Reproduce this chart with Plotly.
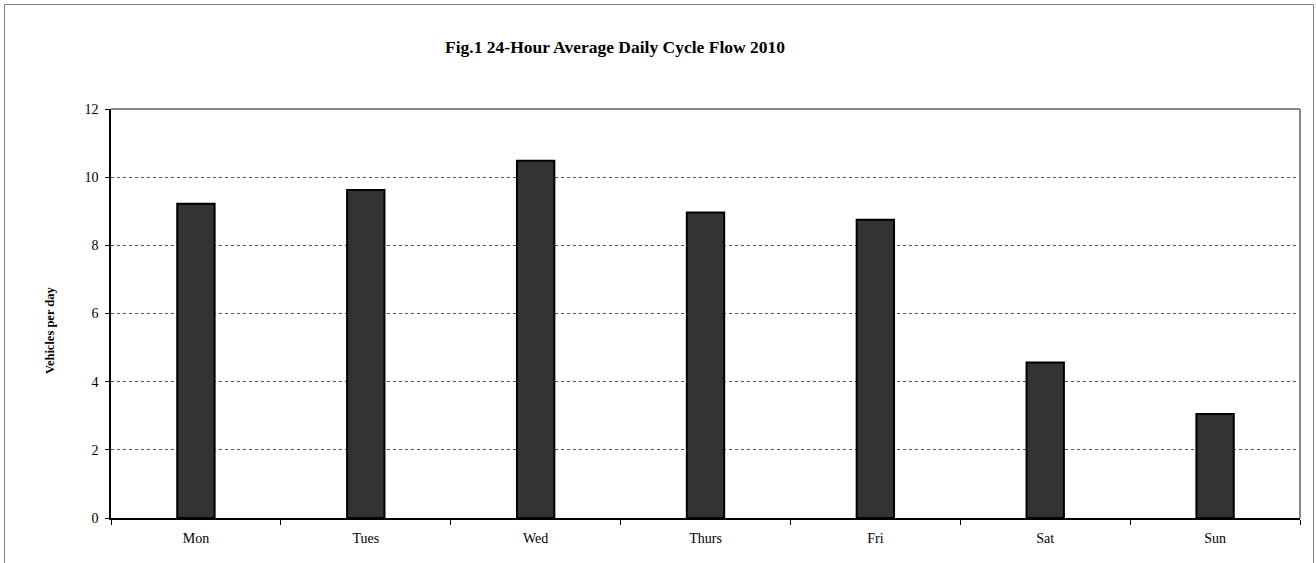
import plotly.graph_objects as go

days = ["Mon", "Tues", "Wed", "Thurs", "Fri", "Sat", "Sun"]
flow = [9.22, 9.62, 10.48, 8.96, 8.75, 4.56, 3.05]
y_ticks = [0, 2, 4, 6, 8, 10, 12]

title_text = "Fig.1 24-Hour Average Daily Cycle Flow 2010"
y_title = "Vehicles per day"

W, H = 1316, 563
L, R, T, B = 111, 16, 109, 45
pw, ph = W - L - R, H - T - B

def px(x):
    return (x - L) / pw

def py(y):
    return (H - B - y) / ph

serif = "Liberation Serif, Times New Roman, serif"

fig = go.Figure(go.Bar(
    x=days, y=flow,
    marker=dict(color="#333333", line=dict(color="#000000", width=2)),
    width=0.22,
))

fig.update_layout(
    width=W, height=H,
    margin=dict(l=L, r=R, t=T, b=B),
    paper_bgcolor="white", plot_bgcolor="white",
    showlegend=False,
    font=dict(family=serif, size=14, color="#000000"),
    shapes=[
        dict(type="line", xref="paper", yref="paper", x0=0, x1=1, y0=1, y1=1,
             line=dict(color="#888888", width=2), layer="above"),
        dict(type="line", xref="paper", yref="paper", x0=1, x1=1, y0=0, y1=1,
             line=dict(color="#888888", width=2), layer="above"),
        dict(type="rect", xref="paper", yref="paper",
             x0=px(4.5), x1=px(1313.5), y0=py(575), y1=py(4.5),
             line=dict(color="#808080", width=1), fillcolor="rgba(0,0,0,0)"),
    ],
    annotations=[
        dict(text="<b>" + title_text + "</b>", xref="paper", yref="paper",
             x=px(614.5), y=py(47), showarrow=False, xanchor="center", yanchor="middle",
             font=dict(family=serif, size=17.5, color="#000000")),
        dict(text="<b>" + y_title + "</b>", xref="paper", yref="paper",
             x=px(50), y=py(330), showarrow=False, textangle=-90,
             xanchor="center", yanchor="middle",
             font=dict(family=serif, size=12.5, color="#000000")),
    ],
)

fig.update_xaxes(
    type="category",
    showline=True, linecolor="#000000", linewidth=1.5,
    ticks="outside", ticklen=5, tickcolor="#000000", tickwidth=1,
    tickson="boundaries",
    showgrid=False,
    tickfont=dict(family=serif, size=14, color="#000000"),
    ticklabelstandoff=6,
    fixedrange=True,
)
fig.update_yaxes(
    range=[0, 12],
    tickvals=y_ticks,
    showline=True, linecolor="#000000", linewidth=1.5,
    ticks="outside", ticklen=4, tickcolor="#000000", tickwidth=1,
    showgrid=True, gridcolor="#555555", gridwidth=1, griddash="dot",
    zeroline=False,
    tickfont=dict(family=serif, size=14, color="#000000"),
    ticklabelstandoff=4,
    fixedrange=True,
)

fig.write_html(
    "out.html",
    config={"displayModeBar": False},
    post_script="document.body.style.margin='0';document.body.style.overflow='hidden';",
)
